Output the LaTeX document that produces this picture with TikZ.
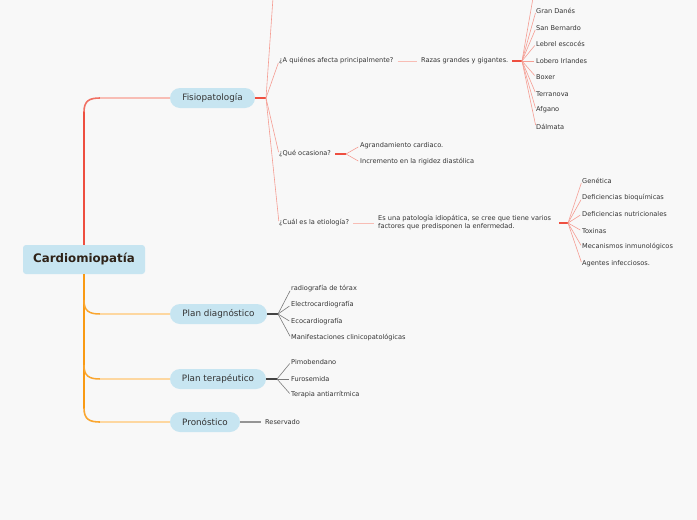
\documentclass[tikz,border=0pt]{standalone}
\usepackage{fontspec}
\setmainfont{DejaVu Sans}
\definecolor{bgc}{HTML}{F8F8F8}
\definecolor{nodeblue}{HTML}{C7E5F1}
\definecolor{redtrunk}{HTML}{EE4F40}
\definecolor{pinkline}{HTML}{F8BDB5}
\definecolor{fanred}{HTML}{F59C92}
\definecolor{orangetrunk}{HTML}{F99A14}
\definecolor{lightorange}{HTML}{FDD7A0}
\definecolor{darkgrey}{HTML}{444444}
\definecolor{fangrey}{HTML}{7A7A7A}
\definecolor{txt}{HTML}{333333}
\definecolor{roottxt}{HTML}{2E2218}
\begin{document}
\begin{tikzpicture}[x=1pt,y=-1pt,
  rootbox/.style={fill=nodeblue, rounded corners=3pt, minimum width=122pt, minimum height=29pt, inner sep=0pt, font=\bfseries\fontsize{11.8}{13}\selectfont, text=roottxt},
  mainbox/.style={fill=nodeblue, rounded corners=10pt, minimum height=20pt, inner sep=0pt, font=\fontsize{8.8}{10}\selectfont, text=txt},
  leaf/.style={anchor=west, inner sep=0pt, font=\fontsize{6.6}{8}\selectfont, text=txt},
  stubred/.style={draw=redtrunk, line width=1.6pt},
  stubgrey/.style={draw=darkgrey, line width=1.6pt},
  fanr/.style={draw=fanred, line width=0.6pt, shorten >=2pt},
  fang/.style={draw=fangrey, line width=0.6pt, shorten >=2pt},
  linkpink/.style={draw=pinkline, line width=1pt, shorten <=4pt, shorten >=4pt},
]
\fill[bgc] (0,0) rectangle (697,520);
\useasboundingbox (0,0) rectangle (697,520);

% root and main nodes
\node[rootbox] (root) at (84,259.5) {Cardiomiopatía};
\node[mainbox, minimum width=85pt] (fisio) at (212.5,98) {Fisiopatología};
\node[mainbox, minimum width=97pt] (diag) at (218.5,314) {Plan diagnóstico};
\node[mainbox, minimum width=96pt] (tera) at (218,379) {Plan terapéutico};
\node[mainbox, minimum width=70pt] (prono) at (205,422) {Pronóstico};

% trunk up (red)
\coordinate (tu) at (84,112);
\coordinate (tuc) at (100,98);
\draw[redtrunk, line width=2pt] (root.north) -- (tu);
\draw[color=redtrunk!70!pinkline, line width=1.6pt] (tu) .. controls (84,101) and (89,98) .. (tuc);
\draw[pinkline, line width=1.3pt] (tuc) -- (fisio.west);

% trunk down (orange)
\coordinate (td) at (84,408);
\coordinate (c1a) at (84,300);
\coordinate (c1b) at (100,314);
\coordinate (c2a) at (84,365);
\coordinate (c2b) at (100,379);
\coordinate (c3b) at (100,422);
\draw[orangetrunk, line width=2pt] (root.south) -- (td);
\draw[orangetrunk!80!lightorange, line width=1.6pt] (td) .. controls (84,419) and (89,422) .. (c3b);
\draw[orangetrunk!80!lightorange, line width=1.5pt] (c1a) .. controls (84,311) and (89,314) .. (c1b);
\draw[orangetrunk!80!lightorange, line width=1.5pt] (c2a) .. controls (84,376) and (89,379) .. (c2b);
\draw[lightorange, line width=1.3pt] (c1b) -- (diag.west);
\draw[lightorange, line width=1.3pt] (c2b) -- (tera.west);
\draw[lightorange, line width=1.3pt] (c3b) -- (prono.west);

% Fisiopatologia branch
\coordinate (j1) at (266,98);
\coordinate (topA) at (273,-2);
\draw[stubred] (fisio.east) -- (j1);
\node[leaf] (q1) at (279,61) {¿A quiénes afecta principalmente?};
\node[leaf] (q2) at (279,154) {¿Qué ocasiona?};
\node[leaf] (q3) at (279,223) {¿Cuál es la etiología?};
\draw[fanr, shorten >=0pt] (j1) -- (topA);
\draw[fanr] (j1) -- (q1.west);
\draw[fanr] (j1) -- (q2.west);
\draw[fanr] (j1) -- (q3.west);

% Razas
\node[leaf] (razas) at (421,61) {Razas grandes y gigantes.};
\draw[linkpink] (q1.east) -- (razas.west);
\coordinate (j2) at (522,61);
\coordinate (topB) at (533,-2);
\draw[stubred] ([xshift=4pt]razas.east) -- (j2);
\node[leaf] (b1) at (536,11) {Gran Danés};
\node[leaf] (b2) at (536,28) {San Bernardo};
\node[leaf] (b3) at (536,44) {Lebrel escocés};
\node[leaf] (b4) at (536,61) {Lobero Irlandes};
\node[leaf] (b5) at (536,77) {Boxer};
\node[leaf] (b6) at (536,94) {Terranova};
\node[leaf] (b7) at (536,110) {Afgano};
\node[leaf] (b8) at (536,127) {Dálmata};
\draw[fanr, shorten >=0pt] (j2) -- (topB);
\foreach \b in {b1,b2,b3,b4,b5,b6,b7,b8} \draw[fanr] (j2) -- (\b.west);

% Que ocasiona
\coordinate (j3) at (346,154);
\draw[stubred, line width=1.2pt] ([xshift=4pt]q2.east) -- (j3);
\node[leaf] (o1) at (360,146) {Agrandamiento cardiaco.};
\node[leaf] (o2) at (360,162) {Incremento en la rigidez diastólica};
\draw[fanr] (j3) -- (o1.west);
\draw[fanr] (j3) -- (o2.west);

% Etiologia
\node[leaf, align=left] (esuna) at (378,223) {Es una patología idiopática, se cree que tiene varios\\factores que predisponen la enfermedad.};
\draw[linkpink] (q3.east) -- (esuna.west);
\coordinate (j4) at (568,223);
\draw[stubred] ([xshift=8pt]esuna.east) -- (j4);
\node[leaf] (e1) at (582,181) {Genética};
\node[leaf] (e2) at (582,198) {Deficiencias bioquímicas};
\node[leaf] (e3) at (582,214) {Deficiencias nutricionales};
\node[leaf] (e4) at (582,231) {Toxinas};
\node[leaf] (e5) at (582,247) {Mecanismos inmunológicos};
\node[leaf] (e6) at (582,264) {Agentes infecciosos.};
\foreach \e in {e1,e2,e3,e4,e5,e6} \draw[fanr] (j4) -- (\e.west);

% Plan diagnostico
\coordinate (j5) at (278,314);
\draw[stubgrey] (diag.east) -- (j5);
\node[leaf] (d1) at (291,289) {radiografía de tórax};
\node[leaf] (d2) at (291,305) {Electrocardiografía};
\node[leaf] (d3) at (291,322) {Ecocardiografía};
\node[leaf] (d4) at (291,338) {Manifestaciones clinicopatológicas};
\foreach \d in {d1,d2,d3,d4} \draw[fang] (j5) -- (\d.west);

% Plan terapeutico
\coordinate (j6) at (277,379);
\draw[stubgrey] (tera.east) -- (j6);
\node[leaf] (t1) at (291,362) {Pimobendano};
\node[leaf] (t2) at (291,379) {Furosemida};
\node[leaf] (t3) at (291,395) {Terapia antiarrítmica};
\foreach \t in {t1,t2,t3} \draw[fang] (j6) -- (\t.west);

% Pronostico
\node[leaf] (r1) at (265,422) {Reservado};
\draw[draw=fangrey!80, line width=1.2pt, shorten >=4pt] (prono.east) -- (r1.west);
\end{tikzpicture}
\end{document}
